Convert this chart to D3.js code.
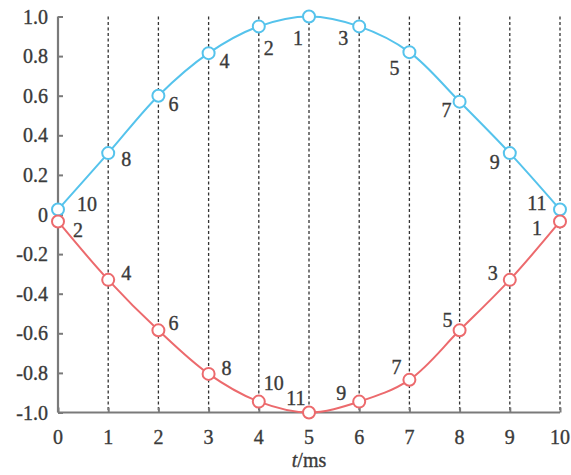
<!DOCTYPE html>
<html>
<head>
<meta charset="utf-8">
<script src="https://cdn.jsdelivr.net/npm/d3@7"></script>
<style>
    body { margin: 0; background: #fff; }
    svg { display: block; }
</style>
</head>
<body>
<div id="chart"></div>
<script>
// Chart data
const timeSteps = [0, 1, 2, 3, 4, 5, 6, 7, 8, 9, 10];
const blueValues = [0.025, 0.31, 0.60, 0.815, 0.95, 1.0, 0.95, 0.82, 0.57, 0.31, 0.025];
const redValues = [-0.035, -0.33, -0.585, -0.805, -0.945, -1.0, -0.945, -0.835, -0.585, -0.33, -0.035];
const blueLabels = ["10", "8", "6", "4", "2", "1", "3", "5", "7", "9", "11"];
const redLabels = ["2", "4", "6", "8", "10", "11", "9", "7", "5", "3", "1"];
const xTicks = [0, 1, 2, 3, 4, 5, 6, 7, 8, 9, 10];
const yTicks = [-1.0, -0.8, -0.6, -0.4, -0.2, 0, 0.2, 0.4, 0.6, 0.8, 1.0];

// Label offsets relative to each marker (layout only)
const blueLabelOffset = [[29, -6], [18, 6], [15, 8], [16, 8], [10, 22], [-11, 21], [-16, 12], [-15, 16], [-13, 8], [-15, 9], [-23, -7]];
const redLabelOffset = [[20, 9], [18, -7], [15, -7], [18, -6], [15, -19], [-13, -15], [-18, -9], [-13, -13], [-12, -10], [-17, -7], [-23, 7]];

const width = 571, height = 475;
const margin = { top: 16.5, right: 11, bottom: 62.5, left: 58 };
const blue = "#55c3ec", red = "#ec6a6d";
const axisColor = "#7a7a7a", textColor = "#3a3a3a";
const fontFamily = '"Liberation Serif", "Times New Roman", serif';
const fontSize = "20px";

const svg = d3.select("#chart").append("svg")
    .attr("width", width)
    .attr("height", height);

const x = d3.scaleLinear().domain([0, 10]).range([margin.left, width - margin.right]);
const y = d3.scaleLinear().domain([-1, 1]).range([height - margin.bottom, margin.top]);

// shared text styling, slightly thickened like the scanned original
const styleText = sel => sel
    .style("font-family", fontFamily)
    .style("font-size", fontSize)
    .attr("fill", textColor)
    .attr("stroke", textColor)
    .attr("stroke-width", 0.35);

// dashed vertical guides
svg.append("g")
    .selectAll("line")
    .data(xTicks.filter(d => d > 0))
    .enter()
    .append("line")
        .attr("x1", d => x(d)).attr("x2", d => x(d))
        .attr("y1", y(1)).attr("y2", y(-1))
        .attr("stroke", "#333")
        .attr("stroke-width", 1.3)
        .attr("stroke-dasharray", "3,2.5");

// y axis
const yAxis = svg.append("g")
    .attr("transform", `translate(${x(0)},0)`)
    .call(d3.axisRight(y).tickValues(yTicks).tickSize(5).tickFormat(""));
yAxis.select(".domain").attr("stroke", axisColor).attr("stroke-width", 2.2).attr("d", `M0,${y(1)}V${y(-1)}`);
yAxis.selectAll(".tick line").attr("stroke", axisColor).attr("stroke-width", 2);

svg.append("g")
    .selectAll("text")
    .data(yTicks)
    .enter()
    .append("text")
        .attr("x", x(0) - 10)
        .attr("y", d => y(d))
        .attr("dy", "0.35em")
        .attr("text-anchor", "end")
        .call(styleText)
        .text(d => d === 0 ? "0" : d.toFixed(1));

// x axis
const xAxis = svg.append("g")
    .attr("transform", `translate(0,${y(-1)})`)
    .call(d3.axisTop(x).tickValues(xTicks).tickSize(5).tickFormat(""));
xAxis.select(".domain").attr("stroke", axisColor).attr("stroke-width", 2.2).attr("d", `M${x(0)},0H${x(10)}`);
xAxis.selectAll(".tick line").attr("stroke", axisColor).attr("stroke-width", 2);

svg.append("g")
    .selectAll("text")
    .data(xTicks)
    .enter()
    .append("text")
        .attr("x", d => x(d))
        .attr("y", y(-1) + 31)
        .attr("text-anchor", "middle")
        .call(styleText)
        .text(d => d);

const xLabel = svg.append("text")
    .attr("x", x(5))
    .attr("y", height - 8)
    .attr("text-anchor", "middle")
    .call(styleText);
xLabel.append("tspan").style("font-style", "italic").text("t");
xLabel.append("tspan").text("/ms");

// series
const line = d3.line()
    .x(d => x(d.t))
    .y(d => y(d.v))
    .curve(d3.curveCatmullRom.alpha(0.5));

function drawSeries(values, labels, offsets, color) {
    const pts = timeSteps.map((t, i) => ({ t: t, v: values[i], label: labels[i], off: offsets[i] }));
    svg.append("path")
        .datum(pts)
        .attr("d", line)
        .attr("fill", "none")
        .attr("stroke", color)
        .attr("stroke-width", 2);
    svg.append("g")
        .selectAll("circle")
        .data(pts)
        .enter()
        .append("circle")
            .attr("cx", d => x(d.t))
            .attr("cy", d => y(d.v))
            .attr("r", 6)
            .attr("fill", "#fff")
            .attr("stroke", color)
            .attr("stroke-width", 2);
    svg.append("g")
        .selectAll("text")
        .data(pts)
        .enter()
        .append("text")
            .attr("x", d => x(d.t) + d.off[0])
            .attr("y", d => y(d.v) + d.off[1])
            .attr("dy", "0.35em")
            .attr("text-anchor", "middle")
            .call(styleText)
            .text(d => d.label);
}

drawSeries(blueValues, blueLabels, blueLabelOffset, blue);
drawSeries(redValues, redLabels, redLabelOffset, red);
</script>
</body>
</html>
